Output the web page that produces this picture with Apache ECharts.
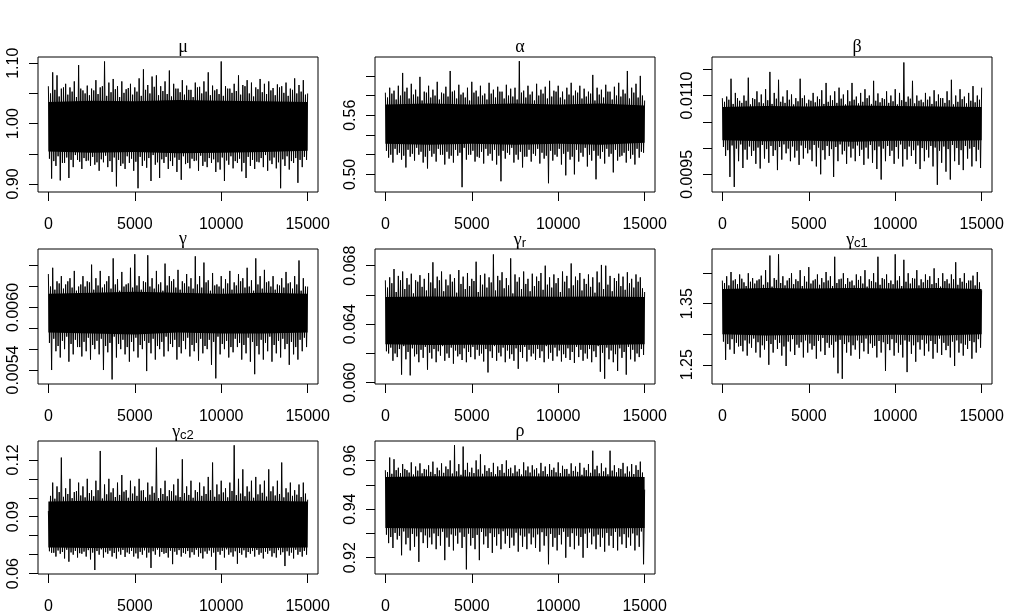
<!DOCTYPE html>
<html>
<head>
<meta charset="utf-8">
<script src="https://cdn.jsdelivr.net/npm/echarts@6.0.0/dist/echarts.min.js"></script>
<style>
  html, body { margin: 0; padding: 0; background: #fff; }
  #chart { width: 1012px; height: 615px; }
</style>
</head>
<body>
<div id="chart"></div>
<script>
// iterations 0..15000. Per 250-iteration bin: a tall spike top (Hi), a medium
// bottom (LoB), a medium top (HiB) and a deep bottom (Lo), in that order.
var iterStep = 250;
var coreStep = 2500;
var xTicks = [0, 5000, 10000, 15000];

// mu
var muHi = [1.062, 1.085, 1.080, 1.058, 1.066, 1.060, 1.070, 1.097, 1.055, 1.063,
            1.058, 1.072, 1.060, 1.103, 1.068, 1.074, 1.062, 1.070, 1.057, 1.066,
            1.060, 1.075, 1.090, 1.064, 1.078, 1.080, 1.062, 1.070, 1.088, 1.066,
            1.058, 1.072, 1.063, 1.056, 1.068, 1.061, 1.070, 1.085, 1.063, 1.057,
            1.103, 1.062, 1.058, 1.066, 1.080, 1.064, 1.072, 1.068, 1.060, 1.074,
            1.066, 1.070, 1.059, 1.065, 1.062, 1.068, 1.058, 1.075, 1.064, 1.072,
            1.050];
var muLo = [0.909, 0.930, 0.906, 0.935, 0.910, 0.928, 0.940, 0.925, 0.938, 0.930,
            0.932, 0.922, 0.936, 0.928, 0.920, 0.896, 0.930, 0.925, 0.935, 0.922,
            0.893, 0.930, 0.927, 0.905, 0.932, 0.910, 0.935, 0.925, 0.930, 0.920,
            0.907, 0.933, 0.926, 0.938, 0.922, 0.930, 0.928, 0.935, 0.920, 0.924,
            0.905, 0.932, 0.926, 0.935, 0.921, 0.910, 0.930, 0.925, 0.936, 0.928,
            0.922, 0.933, 0.926, 0.893, 0.930, 0.924, 0.935, 0.902, 0.928, 0.940];
var muHiB = [1.050, 1.056, 1.045, 1.060, 1.048, 1.053, 1.044, 1.058, 1.050, 1.047,
             1.055, 1.049, 1.062, 1.046, 1.052, 1.057, 1.044, 1.051, 1.059, 1.048,
             1.053, 1.046, 1.056, 1.050, 1.061, 1.047, 1.054, 1.049, 1.045, 1.058,
             1.052, 1.048, 1.056, 1.044, 1.060, 1.050, 1.053, 1.047, 1.055, 1.049,
             1.046, 1.058, 1.051, 1.054, 1.048, 1.062, 1.050, 1.045, 1.057, 1.052,
             1.049, 1.055, 1.047, 1.060, 1.051, 1.046, 1.056, 1.050, 1.053, 1.048];
var muLoB = [0.942, 0.938, 0.946, 0.935, 0.944, 0.940, 0.948, 0.937, 0.943, 0.939,
             0.945, 0.936, 0.941, 0.947, 0.938, 0.944, 0.940, 0.934, 0.946, 0.942,
             0.937, 0.945, 0.939, 0.943, 0.948, 0.936, 0.941, 0.945, 0.938, 0.944,
             0.940, 0.946, 0.935, 0.942, 0.939, 0.947, 0.937, 0.943, 0.941, 0.936,
             0.944, 0.939, 0.946, 0.938, 0.942, 0.935, 0.945, 0.940, 0.937, 0.943,
             0.948, 0.939, 0.944, 0.936, 0.941, 0.946, 0.938, 0.943, 0.940, 0.945];
var muCoreHi = [1.036, 1.038, 1.037, 1.039, 1.038, 1.037, 1.036];
var muCoreLo = [0.954, 0.952, 0.953, 0.951, 0.952, 0.953, 0.955];
var muTicks = [0.90, 0.95, 1.00, 1.05, 1.10];
var muLabels = [0.90, 1.00, 1.10];

// alpha
var alphaHi = [0.583, 0.588, 0.585, 0.590, 0.603, 0.588, 0.592, 0.586, 0.599, 0.584,
               0.590, 0.586, 0.594, 0.583, 0.589, 0.605, 0.585, 0.591, 0.583, 0.588,
               0.594, 0.585, 0.590, 0.582, 0.593, 0.586, 0.589, 0.584, 0.591, 0.587,
               0.588, 0.615, 0.585, 0.590, 0.584, 0.592, 0.586, 0.589, 0.595, 0.585,
               0.590, 0.584, 0.588, 0.593, 0.585, 0.590, 0.587, 0.584, 0.601, 0.588,
               0.586, 0.591, 0.584, 0.589, 0.593, 0.586, 0.605, 0.588, 0.592, 0.600,
               0.575];
var alphaLo = [0.517, 0.512, 0.520, 0.515, 0.507, 0.518, 0.514, 0.520, 0.512, 0.506,
               0.518, 0.513, 0.520, 0.510, 0.516, 0.512, 0.519, 0.487, 0.515, 0.520,
               0.513, 0.517, 0.511, 0.519, 0.514, 0.510, 0.493, 0.516, 0.520, 0.512,
               0.515, 0.507, 0.518, 0.513, 0.519, 0.511, 0.516, 0.491, 0.514, 0.518,
               0.510, 0.499, 0.515, 0.500, 0.513, 0.518, 0.508, 0.514, 0.495, 0.516,
               0.511, 0.518, 0.502, 0.514, 0.519, 0.512, 0.516, 0.510, 0.517, 0.522];
var alphaHiB = [0.578, 0.582, 0.576, 0.580, 0.584, 0.577, 0.581, 0.579, 0.575, 0.583,
                0.578, 0.580, 0.576, 0.582, 0.579, 0.584, 0.577, 0.581, 0.578, 0.575,
                0.583, 0.579, 0.580, 0.576, 0.582, 0.578, 0.584, 0.577, 0.580, 0.579,
                0.576, 0.583, 0.578, 0.581, 0.575, 0.580, 0.582, 0.577, 0.579, 0.584,
                0.578, 0.576, 0.581, 0.580, 0.583, 0.577, 0.579, 0.582, 0.575, 0.581,
                0.578, 0.584, 0.576, 0.580, 0.579, 0.582, 0.577, 0.583, 0.578, 0.580];
var alphaLoB = [0.524, 0.520, 0.526, 0.522, 0.519, 0.525, 0.521, 0.527, 0.523, 0.518,
                0.524, 0.521, 0.526, 0.520, 0.523, 0.519, 0.525, 0.522, 0.527, 0.520,
                0.524, 0.518, 0.523, 0.526, 0.521, 0.525, 0.519, 0.524, 0.522, 0.527,
                0.520, 0.523, 0.518, 0.525, 0.521, 0.526, 0.522, 0.519, 0.524, 0.520,
                0.526, 0.521, 0.523, 0.518, 0.525, 0.522, 0.527, 0.520, 0.524, 0.519,
                0.523, 0.526, 0.521, 0.525, 0.518, 0.522, 0.524, 0.520, 0.526, 0.523];
var alphaCoreHi = [0.571, 0.572, 0.571, 0.572, 0.571, 0.572, 0.570];
var alphaCoreLo = [0.531, 0.530, 0.531, 0.530, 0.531, 0.530, 0.532];
var alphaTicks = [0.50, 0.52, 0.54, 0.56, 0.58, 0.60];
var alphaLabels = [0.50, 0.56];

// beta
var betaHi = [0.01095, 0.01098, 0.01132, 0.01105, 0.01090, 0.01100, 0.01134, 0.01095, 0.01108, 0.01102,
              0.01112, 0.01145, 0.01105, 0.01130, 0.01098, 0.01110, 0.01102, 0.01095, 0.01132, 0.01100,
              0.01092, 0.01105, 0.01098, 0.01110, 0.01124, 0.01100, 0.01108, 0.01115, 0.01102, 0.01110,
              0.01124, 0.01098, 0.01105, 0.01112, 0.01100, 0.01128, 0.01104, 0.01095, 0.01108, 0.01100,
              0.01112, 0.01105, 0.01163, 0.01098, 0.01128, 0.01100, 0.01092, 0.01105, 0.01098, 0.01110,
              0.01102, 0.01095, 0.01108, 0.01130, 0.01100, 0.01112, 0.01098, 0.01105, 0.01118, 0.01100,
              0.01115];
var betaLo = [0.00985, 0.00945, 0.00926, 0.00975, 0.00962, 0.00978, 0.00985, 0.00970, 0.00961, 0.00980,
              0.00972, 0.00985, 0.00958, 0.00978, 0.00990, 0.00975, 0.00982, 0.00968, 0.00980, 0.00990,
              0.00975, 0.00965, 0.00950, 0.00978, 0.00985, 0.00945, 0.00975, 0.00988, 0.00970, 0.00982,
              0.00975, 0.00985, 0.00968, 0.00980, 0.00972, 0.00960, 0.00940, 0.00975, 0.00985, 0.00970,
              0.00980, 0.00965, 0.00978, 0.00985, 0.00970, 0.00960, 0.00975, 0.00982, 0.00965, 0.00930,
              0.00972, 0.00955, 0.00940, 0.00975, 0.00968, 0.00958, 0.00980, 0.00965, 0.00975, 0.00962];
var betaHiB = [0.01088, 0.01092, 0.01084, 0.01095, 0.01086, 0.01090, 0.01083, 0.01093, 0.01087, 0.01085,
               0.01091, 0.01084, 0.01094, 0.01088, 0.01086, 0.01092, 0.01083, 0.01089, 0.01095, 0.01085,
               0.01090, 0.01087, 0.01093, 0.01084, 0.01088, 0.01091, 0.01086, 0.01094, 0.01083, 0.01089,
               0.01092, 0.01085, 0.01088, 0.01095, 0.01084, 0.01090, 0.01087, 0.01093, 0.01086, 0.01089,
               0.01083, 0.01091, 0.01088, 0.01094, 0.01085, 0.01090, 0.01087, 0.01092, 0.01084, 0.01089,
               0.01095, 0.01086, 0.01091, 0.01083, 0.01088, 0.01093, 0.01085, 0.01090, 0.01087, 0.01092];
var betaLoB = [0.01002, 0.00996, 0.01005, 0.00999, 0.01007, 0.00997, 0.01003, 0.00995, 0.01001, 0.01006,
               0.00998, 0.01004, 0.00996, 0.01002, 0.01007, 0.00999, 0.01003, 0.00995, 0.01005, 0.01000,
               0.00997, 0.01006, 0.01001, 0.00996, 0.01004, 0.00998, 0.01002, 0.01007, 0.00995, 0.01003,
               0.00999, 0.01005, 0.00997, 0.01001, 0.01006, 0.00996, 0.01003, 0.00999, 0.01004, 0.00995,
               0.01002, 0.01007, 0.00998, 0.01003, 0.00996, 0.01005, 0.01000, 0.00997, 0.01004, 0.01001,
               0.00995, 0.01003, 0.00998, 0.01006, 0.01000, 0.00996, 0.01004, 0.00999, 0.01002, 0.00997];
var betaCoreHi = [0.01078, 0.01080, 0.01079, 0.01081, 0.01080, 0.01079, 0.01078];
var betaCoreLo = [0.01015, 0.01013, 0.01014, 0.01012, 0.01014, 0.01013, 0.01015];
var betaTicks = [0.0095, 0.0100, 0.0105, 0.0110, 0.0115];
var betaLabels = [0.0095, 0.0110];

// gamma
var gammaHi = [0.00632, 0.00638, 0.00625, 0.00630, 0.00622, 0.00628, 0.00635, 0.00620, 0.00630, 0.00625,
               0.00641, 0.00628, 0.00635, 0.00622, 0.00630, 0.00647, 0.00627, 0.00634, 0.00622, 0.00638,
               0.00651, 0.00630, 0.00625, 0.00650, 0.00628, 0.00635, 0.00624, 0.00642, 0.00630, 0.00627,
               0.00636, 0.00625, 0.00632, 0.00628, 0.00649, 0.00630, 0.00643, 0.00626, 0.00633, 0.00622,
               0.00630, 0.00627, 0.00635, 0.00624, 0.00632, 0.00628, 0.00638, 0.00626, 0.00647, 0.00630,
               0.00636, 0.00625, 0.00630, 0.00622, 0.00628, 0.00634, 0.00624, 0.00630, 0.00645, 0.00628,
               0.00620];
var gammaLo = [0.00540, 0.00558, 0.00552, 0.00560, 0.00548, 0.00555, 0.00562, 0.00553, 0.00558, 0.00550,
               0.00560, 0.00555, 0.00540, 0.00557, 0.00531, 0.00552, 0.00560, 0.00555, 0.00548, 0.00558,
               0.00552, 0.00560, 0.00539, 0.00556, 0.00550, 0.00560, 0.00553, 0.00558, 0.00562, 0.00550,
               0.00556, 0.00560, 0.00553, 0.00558, 0.00549, 0.00556, 0.00560, 0.00545, 0.00532, 0.00555,
               0.00560, 0.00552, 0.00557, 0.00562, 0.00550, 0.00556, 0.00548, 0.00536, 0.00555, 0.00550,
               0.00558, 0.00548, 0.00556, 0.00552, 0.00560, 0.00545, 0.00555, 0.00550, 0.00558, 0.00562];
var gammaHiB = [0.00620, 0.00617, 0.00623, 0.00618, 0.00625, 0.00619, 0.00616, 0.00622, 0.00620, 0.00624,
                0.00617, 0.00621, 0.00619, 0.00625, 0.00618, 0.00622, 0.00616, 0.00620, 0.00623, 0.00619,
                0.00621, 0.00617, 0.00624, 0.00620, 0.00618, 0.00622, 0.00616, 0.00621, 0.00625, 0.00619,
                0.00617, 0.00623, 0.00620, 0.00618, 0.00622, 0.00619, 0.00624, 0.00616, 0.00621, 0.00620,
                0.00618, 0.00623, 0.00617, 0.00621, 0.00625, 0.00619, 0.00620, 0.00616, 0.00622, 0.00618,
                0.00624, 0.00620, 0.00617, 0.00621, 0.00619, 0.00623, 0.00618, 0.00622, 0.00616, 0.00620];
var gammaLoB = [0.00566, 0.00570, 0.00563, 0.00568, 0.00572, 0.00565, 0.00569, 0.00562, 0.00567, 0.00571,
                0.00564, 0.00568, 0.00570, 0.00563, 0.00566, 0.00572, 0.00565, 0.00569, 0.00562, 0.00567,
                0.00571, 0.00564, 0.00568, 0.00566, 0.00570, 0.00563, 0.00567, 0.00572, 0.00565, 0.00569,
                0.00562, 0.00568, 0.00571, 0.00564, 0.00566, 0.00570, 0.00563, 0.00569, 0.00567, 0.00572,
                0.00565, 0.00568, 0.00562, 0.00570, 0.00566, 0.00564, 0.00571, 0.00567, 0.00563, 0.00569,
                0.00566, 0.00572, 0.00564, 0.00568, 0.00570, 0.00565, 0.00567, 0.00562, 0.00569, 0.00571];
var gammaCoreHi = [0.00613, 0.00614, 0.00615, 0.00614, 0.00613, 0.00614, 0.00613];
var gammaCoreLo = [0.00576, 0.00575, 0.00574, 0.00576, 0.00575, 0.00575, 0.00576];
var gammaTicks = [0.0054, 0.0056, 0.0058, 0.0060, 0.0062, 0.0064];
var gammaLabels = [0.0054, 0.0060];

// gamma_r
var gammaRHi = [0.06700, 0.06720, 0.06777, 0.06730, 0.06760, 0.06715, 0.06745, 0.06700, 0.06735, 0.06710,
                0.06750, 0.06823, 0.06725, 0.06760, 0.06705, 0.06740, 0.06715, 0.06770, 0.06725, 0.06750,
                0.06710, 0.06827, 0.06735, 0.06745, 0.06720, 0.06877, 0.06730, 0.06755, 0.06715, 0.06850,
                0.06740, 0.06720, 0.06760, 0.06710, 0.06745, 0.06725, 0.06750, 0.06800, 0.06720, 0.06740,
                0.06715, 0.06760, 0.06730, 0.06815, 0.06725, 0.06750, 0.06710, 0.06740, 0.06720, 0.06760,
                0.06805, 0.06800, 0.06730, 0.06715, 0.06745, 0.06725, 0.06755, 0.06710, 0.06740, 0.06720,
                0.06620];
var gammaRLo = [0.06200, 0.06150, 0.06175, 0.06055, 0.06160, 0.06050, 0.06180, 0.06140, 0.06170, 0.06089,
                0.06165, 0.06140, 0.06185, 0.06150, 0.06170, 0.06130, 0.06180, 0.06155, 0.06140, 0.06175,
                0.06160, 0.06185, 0.06145, 0.06070, 0.06170, 0.06150, 0.06180, 0.06140, 0.06165, 0.06150,
                0.06095, 0.06170, 0.06145, 0.06180, 0.06155, 0.06170, 0.06140, 0.06165, 0.06150, 0.06180,
                0.06145, 0.06170, 0.06155, 0.06135, 0.06175, 0.06150, 0.06165, 0.06140, 0.06175, 0.06075,
                0.06027, 0.06160, 0.06140, 0.06080, 0.06170, 0.06055, 0.06160, 0.06145, 0.06175, 0.06190];
var gammaRHiB = [0.06650, 0.06680, 0.06620, 0.06700, 0.06640, 0.06670, 0.06610, 0.06690, 0.06655, 0.06630,
                 0.06685, 0.06645, 0.06700, 0.06625, 0.06665, 0.06690, 0.06615, 0.06675, 0.06640, 0.06660,
                 0.06695, 0.06620, 0.06670, 0.06650, 0.06685, 0.06630, 0.06700, 0.06645, 0.06665, 0.06610,
                 0.06690, 0.06640, 0.06675, 0.06625, 0.06660, 0.06695, 0.06635, 0.06670, 0.06650, 0.06680,
                 0.06620, 0.06690, 0.06645, 0.06665, 0.06700, 0.06630, 0.06675, 0.06655, 0.06615, 0.06685,
                 0.06640, 0.06670, 0.06625, 0.06695, 0.06660, 0.06635, 0.06680, 0.06650, 0.06690, 0.06645];
var gammaRLoB = [0.06215, 0.06240, 0.06200, 0.06230, 0.06250, 0.06210, 0.06235, 0.06195, 0.06225, 0.06245,
                 0.06205, 0.06230, 0.06215, 0.06250, 0.06200, 0.06240, 0.06220, 0.06195, 0.06235, 0.06210,
                 0.06245, 0.06225, 0.06200, 0.06230, 0.06215, 0.06250, 0.06205, 0.06240, 0.06220, 0.06195,
                 0.06235, 0.06210, 0.06245, 0.06225, 0.06200, 0.06230, 0.06215, 0.06250, 0.06205, 0.06240,
                 0.06220, 0.06195, 0.06235, 0.06210, 0.06245, 0.06225, 0.06200, 0.06230, 0.06215, 0.06250,
                 0.06205, 0.06240, 0.06220, 0.06195, 0.06235, 0.06210, 0.06245, 0.06225, 0.06200, 0.06230];
var gammaRCoreHi = [0.06585, 0.06590, 0.06588, 0.06590, 0.06588, 0.06590, 0.06585];
var gammaRCoreLo = [0.06262, 0.06258, 0.06260, 0.06258, 0.06260, 0.06258, 0.06262];
var gammaRTicks = [0.060, 0.062, 0.064, 0.066, 0.068];
var gammaRLabels = [0.060, 0.064, 0.068];

// gamma_c1
var gammaC1Hi = [1.388, 1.395, 1.402, 1.390, 1.398, 1.385, 1.400, 1.392, 1.388, 1.396,
                 1.405, 1.429, 1.392, 1.431, 1.395, 1.388, 1.400, 1.390, 1.405, 1.395,
                 1.410, 1.388, 1.398, 1.392, 1.402, 1.395, 1.427, 1.390, 1.400, 1.392,
                 1.388, 1.398, 1.395, 1.405, 1.390, 1.400, 1.427, 1.392, 1.398, 1.388,
                 1.431, 1.395, 1.422, 1.400, 1.392, 1.405, 1.390, 1.398, 1.395, 1.408,
                 1.392, 1.400, 1.390, 1.398, 1.418, 1.392, 1.400, 1.388, 1.396, 1.402,
                 1.372];
var gammaC1Lo = [1.258, 1.275, 1.268, 1.280, 1.272, 1.265, 1.278, 1.270, 1.262, 1.275,
                 1.250, 1.270, 1.276, 1.265, 1.248, 1.272, 1.266, 1.278, 1.262, 1.270,
                 1.275, 1.260, 1.272, 1.266, 1.278, 1.262, 1.236, 1.227, 1.270, 1.265,
                 1.275, 1.260, 1.272, 1.268, 1.278, 1.262, 1.270, 1.240, 1.274, 1.265,
                 1.270, 1.262, 1.238, 1.268, 1.255, 1.275, 1.265, 1.272, 1.260, 1.270,
                 1.266, 1.274, 1.262, 1.248, 1.270, 1.265, 1.276, 1.260, 1.270, 1.278];
var gammaC1HiB = [1.384, 1.380, 1.388, 1.382, 1.391, 1.379, 1.386, 1.383, 1.390, 1.381,
                  1.385, 1.378, 1.389, 1.384, 1.380, 1.392, 1.382, 1.387, 1.379, 1.386,
                  1.383, 1.390, 1.381, 1.385, 1.388, 1.379, 1.384, 1.391, 1.382, 1.386,
                  1.380, 1.389, 1.383, 1.378, 1.387, 1.385, 1.381, 1.390, 1.384, 1.382,
                  1.388, 1.379, 1.386, 1.383, 1.391, 1.380, 1.385, 1.389, 1.382, 1.384,
                  1.378, 1.387, 1.383, 1.390, 1.381, 1.386, 1.384, 1.388, 1.380, 1.385];
var gammaC1LoB = [1.288, 1.284, 1.292, 1.286, 1.281, 1.290, 1.285, 1.293, 1.287, 1.282,
                  1.289, 1.284, 1.291, 1.286, 1.280, 1.288, 1.292, 1.283, 1.287, 1.290,
                  1.285, 1.281, 1.289, 1.294, 1.286, 1.283, 1.288, 1.291, 1.284, 1.287,
                  1.282, 1.290, 1.286, 1.293, 1.285, 1.281, 1.289, 1.287, 1.284, 1.292,
                  1.286, 1.283, 1.290, 1.288, 1.282, 1.287, 1.291, 1.285, 1.289, 1.284,
                  1.293, 1.286, 1.281, 1.288, 1.290, 1.285, 1.283, 1.289, 1.287, 1.292];
var gammaC1CoreHi = [1.374, 1.376, 1.375, 1.376, 1.375, 1.376, 1.374];
var gammaC1CoreLo = [1.300, 1.298, 1.299, 1.298, 1.299, 1.298, 1.300];
var gammaC1Ticks = [1.25, 1.30, 1.35, 1.40];
var gammaC1Labels = [1.25, 1.35];

// gamma_c2
var gammaC2Hi = [0.0930, 0.1080, 0.1060, 0.1212, 0.1050, 0.1100, 0.1030, 0.1080, 0.1060, 0.1100,
                 0.1040, 0.1090, 0.1247, 0.1070, 0.1100, 0.1050, 0.1080, 0.1120, 0.1040, 0.1090,
                 0.1060, 0.1100, 0.1040, 0.1080, 0.1060, 0.1265, 0.1050, 0.1090, 0.1040, 0.1070,
                 0.1100, 0.1203, 0.1060, 0.1090, 0.1040, 0.1080, 0.1060, 0.1110, 0.1186, 0.1070,
                 0.1090, 0.1050, 0.1080, 0.1277, 0.1100, 0.1150, 0.1060, 0.1090, 0.1110, 0.1070,
                 0.1090, 0.1150, 0.1060, 0.1090, 0.1186, 0.1050, 0.1080, 0.1040, 0.1070, 0.1080,
                 0.0990];
var gammaC2Lo = [0.0710, 0.0690, 0.0705, 0.0680, 0.0663, 0.0700, 0.0685, 0.0705, 0.0690, 0.0675,
                 0.0619, 0.0700, 0.0685, 0.0705, 0.0690, 0.0680, 0.0700, 0.0688, 0.0705, 0.0690,
                 0.0680, 0.0700, 0.0685, 0.0630, 0.0700, 0.0690, 0.0705, 0.0685, 0.0650, 0.0700,
                 0.0690, 0.0705, 0.0685, 0.0700, 0.0690, 0.0680, 0.0705, 0.0690, 0.0619, 0.0700,
                 0.0685, 0.0700, 0.0690, 0.0652, 0.0700, 0.0685, 0.0705, 0.0690, 0.0700, 0.0680,
                 0.0705, 0.0690, 0.0685, 0.0700, 0.0640, 0.0695, 0.0680, 0.0700, 0.0690, 0.0700];
var gammaC2HiB = [0.1010, 0.0995, 0.1030, 0.1005, 0.1020, 0.0998, 0.1035, 0.1012, 0.1002, 0.1025,
                  0.1008, 0.1040, 0.0996, 0.1018, 0.1028, 0.1004, 0.1015, 0.1032, 0.1000, 0.1022,
                  0.1010, 0.1038, 0.1002, 0.1016, 0.1026, 0.0998, 0.1020, 0.1008, 0.1034, 0.1012,
                  0.1004, 0.1024, 0.1015, 0.1000, 0.1030, 0.1010, 0.1020, 0.1040, 0.1005, 0.1018,
                  0.1028, 0.1002, 0.1036, 0.1014, 0.1022, 0.1008, 0.1032, 0.1000, 0.1018, 0.1026,
                  0.1006, 0.1034, 0.1012, 0.1020, 0.1002, 0.1028, 0.1010, 0.1016, 0.1004, 0.1022];
var gammaC2LoB = [0.0718, 0.0710, 0.0722, 0.0714, 0.0726, 0.0712, 0.0720, 0.0708, 0.0716, 0.0724,
                  0.0711, 0.0719, 0.0728, 0.0713, 0.0721, 0.0709, 0.0717, 0.0725, 0.0712, 0.0720,
                  0.0707, 0.0715, 0.0723, 0.0711, 0.0718, 0.0727, 0.0714, 0.0709, 0.0721, 0.0716,
                  0.0724, 0.0710, 0.0719, 0.0713, 0.0726, 0.0708, 0.0717, 0.0722, 0.0711, 0.0715,
                  0.0720, 0.0728, 0.0712, 0.0718, 0.0709, 0.0723, 0.0714, 0.0719, 0.0725, 0.0710,
                  0.0716, 0.0721, 0.0708, 0.0724, 0.0713, 0.0718, 0.0711, 0.0726, 0.0715, 0.0720];
var gammaC2CoreHi = [0.0980, 0.0985, 0.0983, 0.0985, 0.0983, 0.0985, 0.0980];
var gammaC2CoreLo = [0.0738, 0.0735, 0.0736, 0.0735, 0.0736, 0.0735, 0.0738];
var gammaC2Ticks = [0.06, 0.07, 0.08, 0.09, 0.10, 0.11, 0.12];
var gammaC2Labels = [0.06, 0.09, 0.12];

// rho
var rhoHi = [0.9560, 0.9612, 0.9605, 0.9570, 0.9585, 0.9560, 0.9592, 0.9575, 0.9588, 0.9565,
             0.9580, 0.9595, 0.9570, 0.9588, 0.9575, 0.9600, 0.9663, 0.9585, 0.9657, 0.9590,
             0.9570, 0.9600, 0.9625, 0.9580, 0.9568, 0.9590, 0.9575, 0.9585, 0.9600, 0.9570,
             0.9580, 0.9565, 0.9592, 0.9575, 0.9580, 0.9568, 0.9590, 0.9575, 0.9585, 0.9570,
             0.9592, 0.9578, 0.9565, 0.9588, 0.9575, 0.9590, 0.9570, 0.9585, 0.9640, 0.9578,
             0.9588, 0.9570, 0.9640, 0.9580, 0.9568, 0.9590, 0.9575, 0.9585, 0.9580, 0.9595,
             0.9480];
var rhoLo = [0.9260, 0.9240, 0.9275, 0.9210, 0.9255, 0.9230, 0.9245, 0.9183, 0.9260, 0.9240,
             0.9255, 0.9235, 0.9250, 0.9190, 0.9245, 0.9230, 0.9258, 0.9240, 0.9152, 0.9250,
             0.9235, 0.9190, 0.9255, 0.9240, 0.9220, 0.9250, 0.9235, 0.9258, 0.9240, 0.9250,
             0.9225, 0.9245, 0.9235, 0.9255, 0.9240, 0.9225, 0.9250, 0.9173, 0.9245, 0.9230,
             0.9255, 0.9200, 0.9245, 0.9235, 0.9250, 0.9200, 0.9240, 0.9255, 0.9235, 0.9245,
             0.9225, 0.9250, 0.9240, 0.9230, 0.9255, 0.9240, 0.9250, 0.9230, 0.9245, 0.9173];
var rhoHiB = [0.9552, 0.9545, 0.9560, 0.9548, 0.9565, 0.9550, 0.9542, 0.9558, 0.9547, 0.9562,
              0.9553, 0.9544, 0.9559, 0.9549, 0.9564, 0.9546, 0.9555, 0.9541, 0.9561, 0.9551,
              0.9548, 0.9563, 0.9545, 0.9557, 0.9552, 0.9543, 0.9560, 0.9549, 0.9565, 0.9547,
              0.9554, 0.9542, 0.9559, 0.9550, 0.9562, 0.9546, 0.9556, 0.9544, 0.9561, 0.9551,
              0.9548, 0.9564, 0.9545, 0.9557, 0.9553, 0.9541, 0.9560, 0.9549, 0.9563, 0.9547,
              0.9555, 0.9543, 0.9558, 0.9551, 0.9565, 0.9546, 0.9554, 0.9544, 0.9561, 0.9550];
var rhoLoB = [0.9295, 0.9285, 0.9302, 0.9290, 0.9308, 0.9282, 0.9298, 0.9288, 0.9305, 0.9292,
              0.9284, 0.9300, 0.9289, 0.9307, 0.9283, 0.9296, 0.9291, 0.9304, 0.9286, 0.9299,
              0.9281, 0.9294, 0.9306, 0.9288, 0.9301, 0.9285, 0.9297, 0.9309, 0.9290, 0.9283,
              0.9303, 0.9292, 0.9287, 0.9300, 0.9284, 0.9296, 0.9305, 0.9289, 0.9298, 0.9282,
              0.9294, 0.9307, 0.9286, 0.9301, 0.9291, 0.9285, 0.9299, 0.9304, 0.9288, 0.9295,
              0.9283, 0.9302, 0.9290, 0.9306, 0.9287, 0.9297, 0.9284, 0.9300, 0.9292, 0.9308];
var rhoCoreHi = [0.9532, 0.9535, 0.9534, 0.9535, 0.9534, 0.9535, 0.9532];
var rhoCoreLo = [0.9322, 0.9320, 0.9321, 0.9320, 0.9321, 0.9320, 0.9322];
var rhoTicks = [0.92, 0.93, 0.94, 0.95, 0.96];
var rhoLabels = [0.92, 0.94, 0.96];

var panels = [
    {title: 'μ', hi: muHi, lo: muLo, hiB: muHiB, loB: muLoB, coreHi: muCoreHi, coreLo: muCoreLo, ticks: muTicks, labels: muLabels, min: 0.8868, max: 1.1104, dec: 2},
    {title: 'α', hi: alphaHi, lo: alphaLo, hiB: alphaHiB, loB: alphaLoB, coreHi: alphaCoreHi, coreLo: alphaCoreLo, ticks: alphaTicks, labels: alphaLabels, min: 0.4821, max: 0.6192, dec: 2},
    {title: 'β', hi: betaHi, lo: betaLo, hiB: betaHiB, loB: betaLoB, coreHi: betaCoreHi, coreLo: betaCoreLo, ticks: betaTicks, labels: betaLabels, min: 0.009163, max: 0.011734, dec: 4},
    {title: 'γ', hi: gammaHi, lo: gammaLo, hiB: gammaHiB, loB: gammaLoB, coreHi: gammaCoreHi, coreLo: gammaCoreLo, ticks: gammaTicks, labels: gammaLabels, min: 0.005266, max: 0.00656, dec: 4},
    {title: '{g|γ}{s|r}', hi: gammaRHi, lo: gammaRLo, hiB: gammaRHiB, loB: gammaRLoB, coreHi: gammaRCoreHi, coreLo: gammaRCoreLo, ticks: gammaRTicks, labels: gammaRLabels, min: 0.05991, max: 0.06914, dec: 3},
    {title: '{g|γ}{s|c1}', hi: gammaC1Hi, lo: gammaC1Lo, hiB: gammaC1HiB, loB: gammaC1LoB, coreHi: gammaC1CoreHi, coreLo: gammaC1CoreLo, ticks: gammaC1Ticks, labels: gammaC1Labels, min: 1.2185, max: 1.4397, dec: 2},
    {title: '{g|γ}{s|c2}', hi: gammaC2Hi, lo: gammaC2Lo, hiB: gammaC2HiB, loB: gammaC2LoB, coreHi: gammaC2CoreHi, coreLo: gammaC2CoreLo, ticks: gammaC2Ticks, labels: gammaC2Labels, min: 0.0598, max: 0.12995, dec: 2},
    {title: 'ρ', hi: rhoHi, lo: rhoLo, hiB: rhoHiB, loB: rhoLoB, coreHi: rhoCoreHi, coreLo: rhoCoreLo, ticks: rhoTicks, labels: rhoLabels, min: 0.9133, max: 0.968, dec: 2}
];

var colLeft = [38, 375, 712];
var rowTop = [57, 249, 441];
var boxW = 280, boxH = 135;
var font = '"Liberation Sans", Arial, sans-serif';

var grids = [], xAxes = [], yAxes = [], titles = [], series = [];

panels.forEach(function (p, k) {
    var left = colLeft[k % 3], top = rowTop[Math.floor(k / 3)];
    grids.push({left: left, top: top, width: boxW, height: boxH, show: true,
                borderColor: '#000', borderWidth: 1, backgroundColor: 'transparent'});
    titles.push({
        text: p.title, left: left + boxW / 2, top: top - 24, textAlign: 'center',
        textStyle: {
            fontFamily: '"Liberation Serif", serif', fontSize: 18, fontWeight: 'normal', color: '#000',
            rich: {
                g: {fontFamily: '"Liberation Serif", serif', fontSize: 18, color: '#000'},
                s: {fontFamily: font, fontSize: 13, color: '#000', padding: [7, 0, 0, 0]}
            }
        }
    });
    xAxes.push({
        type: 'value', gridIndex: k, min: -600, max: 15600,
        splitLine: {show: false}, axisLine: {show: false, onZero: false},
        axisTick: {show: true, length: 9, customValues: xTicks, lineStyle: {color: '#000'}},
        axisLabel: {customValues: xTicks, fontFamily: font, fontSize: 16, color: '#000', margin: 25,
                    formatter: function (v) { return String(v); }}
    });
    yAxes.push({
        type: 'value', gridIndex: k, min: p.min, max: p.max,
        splitLine: {show: false}, axisLine: {show: false, onZero: false},
        axisTick: {show: true, length: 9, customValues: p.ticks, lineStyle: {color: '#000'}},
        axisLabel: {customValues: p.labels, rotate: 90, fontFamily: font, fontSize: 16, color: '#000', margin: 16,
                    formatter: (function (d) { return function (v) { return v.toFixed(d); }; })(p.dec)}
    });

    var trace = [];
    for (var i = 0; i < p.lo.length; i++) {
        var x0 = i * iterStep;
        trace.push([x0, p.hi[i]]);
        trace.push([x0 + iterStep / 4, p.loB[i]]);
        trace.push([x0 + iterStep / 2, p.hiB[i]]);
        trace.push([x0 + iterStep * 3 / 4, p.lo[i]]);
    }
    trace.push([p.lo.length * iterStep, p.hi[p.lo.length]]);

    // dense core of the trace: polygon between coreHi and coreLo
    series.push({
        type: 'custom', xAxisIndex: k, yAxisIndex: k, data: [0], silent: true,
        renderItem: (function (p) {
            return function (params, api) {
                var pts = [];
                p.coreHi.forEach(function (v, j) { pts.push(api.coord([j * coreStep, v])); });
                for (var j = p.coreLo.length - 1; j >= 0; j--) pts.push(api.coord([j * coreStep, p.coreLo[j]]));
                return {type: 'polygon', shape: {points: pts}, style: {fill: '#000'}};
            };
        })(p)
    });
    series.push({type: 'line', xAxisIndex: k, yAxisIndex: k, data: trace,
                 symbol: 'none', silent: true, lineStyle: {color: '#000', width: 1}});
});

var chart = echarts.init(document.getElementById('chart'));
chart.setOption({
    animation: false,
    backgroundColor: '#fff',
    title: titles,
    grid: grids,
    xAxis: xAxes,
    yAxis: yAxes,
    series: series
});
</script>
</body>
</html>
